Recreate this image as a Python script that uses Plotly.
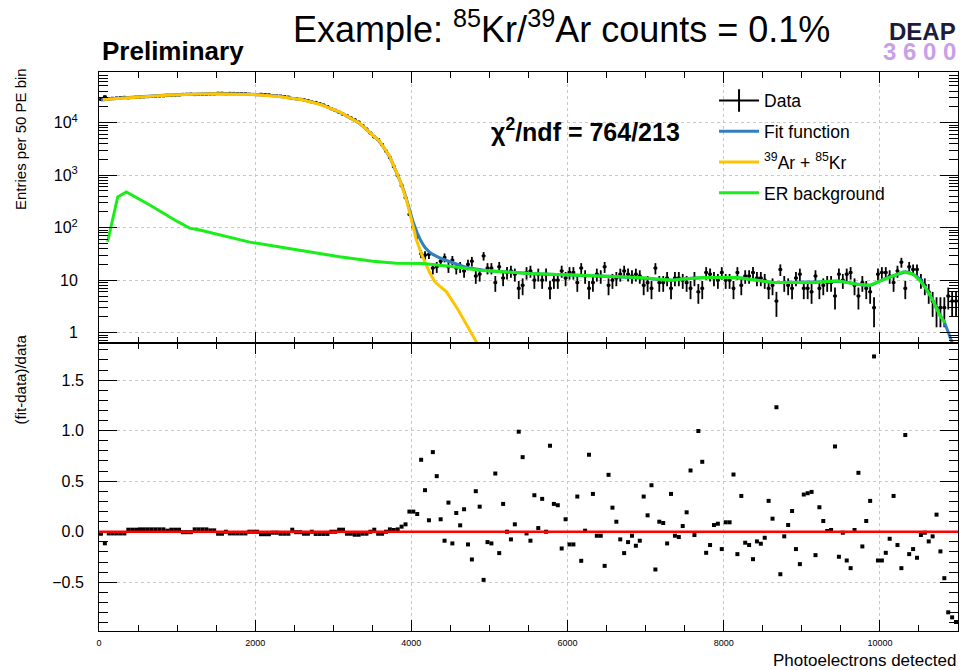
import numpy as np
import plotly.graph_objects as go

# ---------------- data ----------------
bin_width = 50
bin_centers = np.arange(25, 11000, bin_width)  # 220 bins of 50 PE

data_counts = [
    27550, 31190, 28590, 29100, 29500, 29910, 30320, 29610, 30000, 30390,
    30600, 30890, 31180, 31480, 31770, 32060, 32360, 33070, 33040, 33330,
    33530, 34570, 34770, 34970, 34210, 34410, 34510, 34600, 35040, 35140,
    36330, 36330, 35600, 36110, 36010, 35910, 35810, 35610, 34800, 34500,
    34200, 34670, 34260, 33850, 32830, 32320, 32040, 31330, 30610, 28730,
    28640, 27840, 27350, 26330, 24800, 24230, 23010, 21680, 20250, 18400,
    17200, 15780, 14410, 13570, 12350, 11340, 10260, 8830, 7560, 6350,
    5330, 4760, 3820, 2880, 2160, 1455, 980, 630, 373, 179,
    104, 68, 32, 30, 31, 17, 18, 23, 27, 18,
    24, 17, 18, 15, 20, 23, 12, 13, 29, 17,
    17, 9, 18, 11, 14, 15, 13, 7, 8, 14,
    15, 10, 13, 10, 13, 7, 10, 10, 15, 11,
    14, 14, 9, 17, 12, 7, 9, 13, 12, 18,
    8, 10, 11, 13, 15, 13, 12, 13, 12, 8,
    9, 7, 17, 9, 9, 11, 7, 11, 11, 10,
    9, 7, 11, 6, 7, 14, 13, 11, 10, 14,
    10, 10, 7, 14, 8, 12, 12, 14, 11, 11,
    10, 7, 8, 4, 16, 9, 8, 7, 11, 13,
    7, 7, 6, 12, 7, 8, 9, 9, 5, 13,
    10, 13, 14, 8, 5, 9, 7, 6, 3, 13,
    14, 14, 12, 9, 15, 22, 7, 18, 16, 16,
    10, 8, 6, 4, 3, 3, 3, 5, 4, 4,
]

fit_values = [
    27000, 27600, 28100, 28600, 29000, 29400, 29800, 30200, 30600, 31000,
    31300, 31600, 31900, 32200, 32500, 32800, 33100, 33400, 33700, 34000,
    34200, 34400, 34600, 34800, 35000, 35200, 35300, 35400, 35500, 35600,
    35600, 35600, 35600, 35500, 35400, 35300, 35200, 35000, 34800, 34500,
    34200, 33800, 33400, 33000, 32500, 32000, 31400, 30700, 30000, 29300,
    28500, 27700, 26800, 25800, 24800, 23700, 22500, 21200, 19800, 18400,
    17200, 16100, 14700, 13300, 12100, 11000, 9950, 8650, 7410, 6350,
    5440, 4660, 3740, 2880, 2210, 1480, 1000, 660, 400, 215,
    125, 80, 55, 42, 35, 31, 28, 26, 24.5, 23,
    21.5, 20, 19, 18, 17.3, 16.8, 16.2, 15.7, 15.3, 15.1,
    14.9, 14.7, 14.5, 14.3, 14.1, 14.0, 13.9, 13.8, 13.6, 13.5,
    13.4, 13.3, 13.2, 13.2, 13.1, 13.0, 12.9, 12.9, 12.8, 12.7,
    12.6, 12.6, 12.5, 12.4, 12.3, 12.2, 12.2, 12.1, 12.0, 11.9,
    11.9, 11.8, 11.7, 11.6, 11.6, 11.5, 11.4, 11.3, 11.2, 11.0,
    10.8, 10.6, 10.4, 10.2, 10.1, 10.0, 10.0, 10.1, 10.3, 10.5,
    10.7, 10.9, 11.0, 11.1, 11.2, 11.2, 11.2, 11.2, 11.2, 11.2,
    11.2, 11.2, 11.2, 11.1, 11.0, 10.8, 10.5, 10.2, 9.8, 9.5,
    9.3, 9.1, 9.0, 9.0, 9.0, 9.0, 9.0, 9.0, 9.0, 9.0,
    9.0, 9.0, 9.0, 9.1, 9.2, 9.3, 9.4, 9.5, 9.6, 9.7,
    9.5, 9.1, 8.8, 8.5, 8.3, 8.1, 8.0, 8.0, 8.5, 9.3,
    10.0, 10.8, 11.5, 12.2, 13.0, 14.0, 14.4, 14.0, 13.0, 11.8,
    10.0, 7.6, 5.8, 4.2, 3.0, 2.1, 1.6, 1.0, 0.65, 0.45,
]

residuals = [
    -0.02, -0.115, -0.017, -0.017, -0.017, -0.017, -0.017, 0.02, 0.02, 0.02,
    0.023, 0.023, 0.023, 0.023, 0.023, 0.023, 0.023, 0.01, 0.02, 0.02,
    0.02, -0.005, -0.005, -0.005, 0.023, 0.023, 0.023, 0.023, 0.013, 0.013,
    -0.02, -0.02, 0.0, -0.017, -0.017, -0.017, -0.017, -0.017, 0.0, 0.0,
    0.0, -0.025, -0.025, -0.025, -0.01, -0.01, -0.02, -0.02, -0.02, 0.02,
    -0.005, -0.005, -0.02, -0.02, 0.0, -0.022, -0.022, -0.022, -0.022, 0.0,
    0.0, 0.02, 0.02, -0.02, -0.02, -0.03, -0.03, -0.02, -0.02, 0.0,
    0.02, -0.02, -0.02, 0.0, 0.023, 0.017, 0.023, 0.05, 0.073, 0.199,
    0.199, 0.175, 0.712, 0.411, 0.113, 0.788, 0.550, 0.123, -0.089, 0.288,
    -0.116, 0.185, 0.063, 0.222, -0.126, -0.275, 0.401, 0.248, -0.477, -0.103,
    -0.116, 0.576, -0.212, 0.275, 0.0, -0.076, 0.073, 0.990, 0.738, -0.017,
    -0.089, 0.361, 0.036, 0.325, 0.0, 0.851, 0.275, 0.262, -0.166, 0.123,
    -0.126, -0.126, 0.348, -0.288, 0.01, 0.762, 0.374, -0.04, -0.04, -0.338,
    0.563, 0.238, 0.099, -0.076, -0.212, -0.103, -0.04, -0.139, -0.089, 0.348,
    0.162, 0.46, -0.374, 0.099, 0.086, -0.116, 0.374, -0.04, -0.053, 0.056,
    0.192, 0.606, -0.033, 0.997, 0.692, -0.209, -0.132, 0.066, 0.079, -0.172,
    0.093, 0.093, 0.566, -0.222, 0.354, -0.109, -0.132, -0.272, -0.096, -0.119,
    -0.06, 0.305, 0.129, 1.232, -0.421, -0.046, 0.066, 0.205, -0.172, -0.321,
    0.368, 0.381, 0.394, -0.232, 0.242, 0.106, 0.007, 0.017, 0.844, -0.248,
    -0.01, -0.285, -0.361, 0.017, 0.583, -0.146, 0.106, 0.305, 1.735, -0.285,
    -0.285, -0.209, -0.07, 0.354, -0.132, -0.361, 0.957, -0.222, -0.172, -0.258,
    -0.033, -0.01, -0.096, -0.046, 0.169, -0.195, -0.46, -0.798, -0.848, -0.894,
]

ar_kr_pe = [50, 200, 500, 865, 1200, 1500, 1970, 2300, 2600, 2825, 3081, 3338,
            3594, 3722, 3850, 3936, 4000, 4064, 4128, 4234, 4300, 4450, 4600, 4840]
ar_kr_val = [27500, 28600, 31000, 33200, 34800, 35500, 34500, 31600, 27300, 22400,
             16000, 9700, 4400, 2300, 820, 340, 142, 59, 32, 14, 9.3, 6.0, 2.7, 0.64]

er_pe = [110, 240, 350, 650, 970, 1160, 1290, 1930, 2570, 3081,
         3508, 3808, 4145, 4490, 4875, 5516, 6156, 6925, 7352, 7438,
         7737, 8164, 8634, 9146, 9445, 9701, 9872, 10000, 10171, 10299,
         10427, 10513, 10598, 10683, 10769, 10833]
er_val = [54, 385, 480, 270, 140, 98, 90, 53, 37, 28,
          23, 21, 20.8, 18.5, 15.5, 13.4, 12.4, 11.2, 10.0, 10.4,
          11.2, 11.2, 9.0, 9.0, 9.7, 8.4, 8.0, 9.7, 12.1, 14.4,
          13.0, 9.7, 6.7, 4.0, 2.08, 1.55]

log_major = [1, 10, 100, 1000, 10000]
log_major_text = ["1", "10", "10<sup>2</sup>", "10<sup>3</sup>", "10<sup>4</sup>"]

assert len(data_counts) == len(bin_centers) == len(fit_values) == len(residuals)

# ---------------- styling ----------------
FONT = "Liberation Sans, Arial, Helvetica, sans-serif"
BLUE = "#2f7fc1"
GOLD = "#ffc400"
GREEN = "#19ee19"

fig = go.Figure()

# top panel: data with Poisson error bars
fig.add_trace(go.Scatter(
    x=bin_centers, y=data_counts, mode="markers", xaxis="x", yaxis="y",
    marker=dict(symbol="square", size=3, color="black"),
    error_y=dict(type="sqrt", thickness=1.8, width=0, color="black"),
    error_x=dict(type="constant", value=bin_width / 2, thickness=1.8, width=0, color="black"),
    showlegend=False, hoverinfo="x+y"))

# legend proxy for the data (cross symbol)
fig.add_trace(go.Scatter(
    x=[None], y=[None], mode="lines+markers", name="Data", xaxis="x", yaxis="y",
    legendgroup="a",
    line=dict(color="black", width=2),
    marker=dict(symbol="line-ns-open", size=16, color="black", line=dict(width=2, color="black"))))

fig.add_trace(go.Scatter(
    x=bin_centers, y=fit_values, mode="lines", name="Fit function", xaxis="x", yaxis="y",
    legendgroup="b", line=dict(color=BLUE, width=3)))

fig.add_trace(go.Scatter(
    x=ar_kr_pe, y=ar_kr_val, mode="lines", name="<sup>39</sup>Ar + <sup>85</sup>Kr",
    xaxis="x", yaxis="y", legendgroup="c", line=dict(color=GOLD, width=3)))

fig.add_trace(go.Scatter(
    x=er_pe, y=er_val, mode="lines", name="ER background", xaxis="x", yaxis="y",
    legendgroup="d", line=dict(color=GREEN, width=3)))

# bottom panel: residuals
fig.add_trace(go.Scatter(
    x=bin_centers, y=residuals, mode="markers", xaxis="x2", yaxis="y2",
    marker=dict(symbol="square", size=4, color="black"), showlegend=False))

# zero reference line in ratio panel
fig.add_shape(type="line", xref="x2 domain", yref="y2", x0=0, x1=1, y0=0, y1=0,
              line=dict(color="#ff0000", width=2.5), layer="above")

split = 0.5152
axis_common = dict(showline=True, linecolor="black", linewidth=1, mirror="ticks",
                   ticks="inside", tickcolor="black", tickwidth=1,
                   showgrid=True, gridcolor="#c8c8c8", griddash="dot", gridwidth=1,
                   zeroline=False)

x_common = dict(axis_common, range=[0, 11000], tick0=0, dtick=2000, ticklen=11,
                tickformat="d",
                minor=dict(ticks="inside", tick0=0, dtick=500, ticklen=6,
                           tickcolor="black", showgrid=False))

minor_log = [m * 10 ** e for e in range(-1, 5) for m in range(2, 10)]

fig.update_layout(
    width=961, height=670,
    margin=dict(l=99, r=3, t=72, b=39),
    paper_bgcolor="white", plot_bgcolor="white",
    font=dict(family=FONT, color="black"),
    legend=dict(x=0.716, y=0.981, xanchor="left", yanchor="top",
                bgcolor="rgba(0,0,0,0)", font=dict(size=17.5, family=FONT),
                itemwidth=40, tracegroupgap=5, traceorder="grouped"),
    xaxis=dict(x_common, domain=[0, 1], anchor="y", showticklabels=False),
    xaxis2=dict(x_common, domain=[0, 1], anchor="y2", matches="x",
                showticklabels=True, tickfont=dict(size=9), ticklabelstandoff=3),
    yaxis=dict(axis_common, domain=[split, 1], anchor="x", type="log",
               range=[-0.196, 4.964], tickmode="array", tickvals=log_major,
               ticktext=log_major_text, ticklen=18, tickfont=dict(size=16),
               ticklabelstandoff=17,
               minor=dict(tickmode="array", tickvals=minor_log, ticks="inside",
                          ticklen=9, tickcolor="black", showgrid=False)),
    yaxis2=dict(axis_common, domain=[0, split], anchor="x2",
                range=[-0.983, 1.868], tick0=0, dtick=0.5, tickformat=".1f",
                ticklen=18, tickfont=dict(size=16), ticklabelstandoff=11,
                minor=dict(tick0=0, dtick=0.1, ticks="inside", ticklen=9,
                           tickcolor="black", showgrid=False)),
)

annotations = [
    dict(text="Example: <sup>85</sup>Kr/<sup>39</sup>Ar counts = 0.1%", x=0.538, y=1.0805,
         xref="paper", yref="paper", xanchor="center", yanchor="middle",
         showarrow=False, font=dict(size=36, family=FONT)),
    dict(text="<b>Preliminary</b>", x=0.001, y=1.0376, xref="paper", yref="paper",
         xanchor="left", yanchor="middle", showarrow=False, font=dict(size=26, family=FONT)),
    dict(text="<b>DEAP</b>", x=1.0, y=1.0725, xref="paper", yref="paper",
         xanchor="right", yanchor="middle", showarrow=False,
         font=dict(size=24, family=FONT, color="#1c1c3c")),
    dict(text="<b>3 6 0 0</b>", x=1.0, y=1.036, xref="paper", yref="paper",
         xanchor="right", yanchor="middle", showarrow=False,
         font=dict(size=24, family=FONT, color="#c8a0e8")),
    dict(text="<b>χ<sup>2</sup>/ndf = 764/213</b>", x=0.566, y=0.896, xref="paper",
         yref="paper", xanchor="center", yanchor="middle", showarrow=False,
         font=dict(size=25, family=FONT)),
    dict(text="Photoelectrons detected", x=1.0, y=-0.052, xref="paper", yref="paper",
         xanchor="right", yanchor="middle", showarrow=False, font=dict(size=17, family=FONT)),
    dict(text="Entries per 50 PE bin", x=-0.092, y=0.880, xref="paper", yref="paper",
         xanchor="center", yanchor="middle", textangle=-90, showarrow=False,
         font=dict(size=15, family=FONT)),
    dict(text="(fit-data)/data", x=-0.092, y=0.45, xref="paper", yref="paper",
         xanchor="center", yanchor="middle", textangle=-90, showarrow=False,
         font=dict(size=15, family=FONT)),
]
fig.update_layout(annotations=annotations)

fig.write_html(
    "out.html",
    config={"displayModeBar": False},
    post_script="document.body.style.margin='0';document.body.style.overflow='hidden';",
)
